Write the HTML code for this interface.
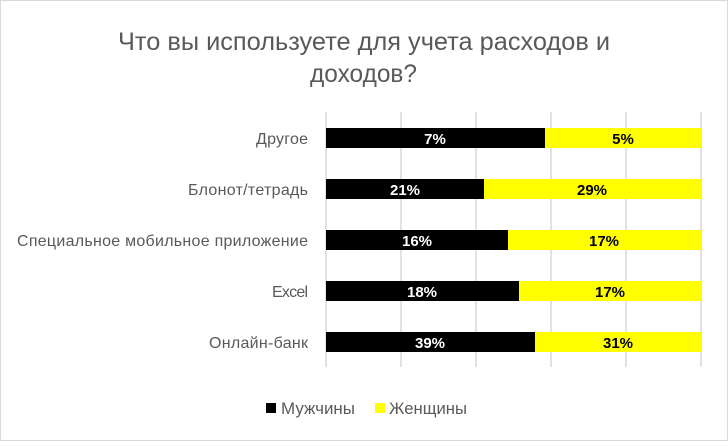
<!DOCTYPE html>
<html><head><meta charset="utf-8"><style>
body{margin:0;background:#fff;}
svg text{font-family:"Liberation Sans","DejaVu Sans",sans-serif;}
</style></head><body>
<svg width="728" height="441" xmlns="http://www.w3.org/2000/svg">
<rect x="0.5" y="0.5" width="727" height="440" fill="#fff" stroke="#d9d9d9"/>
<text x="118" y="50" font-size="25" fill="#595959" textLength="492" lengthAdjust="spacingAndGlyphs">Что вы используете для учета расходов и</text>
<text x="310" y="82" font-size="25" fill="#595959" textLength="107" lengthAdjust="spacingAndGlyphs">доходов?</text>
<g stroke="#d9d9d9" stroke-width="1.5">
<line x1="326" y1="112" x2="326" y2="367"/><line x1="401" y1="112" x2="401" y2="367"/>
<line x1="476" y1="112" x2="476" y2="367"/><line x1="551" y1="112" x2="551" y2="367"/>
<line x1="626" y1="112" x2="626" y2="367"/><line x1="701" y1="112" x2="701" y2="367"/>
</g>
<g font-size="16" fill="#595959" lengthAdjust="spacingAndGlyphs">
<text x="256" y="144" textLength="52">Другое</text>
<text x="188" y="195" textLength="120">Блонот/тетрадь</text>
<text x="17" y="246" textLength="291">Специальное мобильное приложение</text>
<text x="272" y="297" textLength="36">Excel</text>
<text x="209" y="348" textLength="99">Онлайн-банк</text>
</g>
<g>
<rect x="326" y="128" width="219" height="20" fill="#000"/><rect x="545" y="128" width="156" height="20" fill="#ff0"/>
<rect x="326" y="179" width="158" height="20" fill="#000"/><rect x="484" y="179" width="217" height="20" fill="#ff0"/>
<rect x="326" y="230" width="182" height="20" fill="#000"/><rect x="508" y="230" width="193" height="20" fill="#ff0"/>
<rect x="326" y="281" width="193" height="20" fill="#000"/><rect x="519" y="281" width="182" height="20" fill="#ff0"/>
<rect x="326" y="332" width="209" height="20" fill="#000"/><rect x="535" y="332" width="166" height="20" fill="#ff0"/>
</g>
<g font-size="15" font-weight="bold" text-anchor="middle">
<text x="435" y="144" fill="#fff">7%</text><text x="623" y="144">5%</text>
<text x="405" y="195" fill="#fff">21%</text><text x="592" y="195">29%</text>
<text x="417" y="246" fill="#fff">16%</text><text x="604" y="246">17%</text>
<text x="422" y="297" fill="#fff">18%</text><text x="610" y="297">17%</text>
<text x="430" y="348" fill="#fff">39%</text><text x="618" y="348">31%</text>
</g>
<rect x="266" y="403" width="10" height="10" fill="#000"/>
<text x="281" y="414" font-size="16.5" fill="#595959" textLength="74" lengthAdjust="spacingAndGlyphs">Мужчины</text>
<rect x="375" y="403" width="10" height="10" fill="#ff0"/>
<text x="389" y="414" font-size="16.5" fill="#595959" textLength="78" lengthAdjust="spacingAndGlyphs">Женщины</text>
</svg>
</body></html>
